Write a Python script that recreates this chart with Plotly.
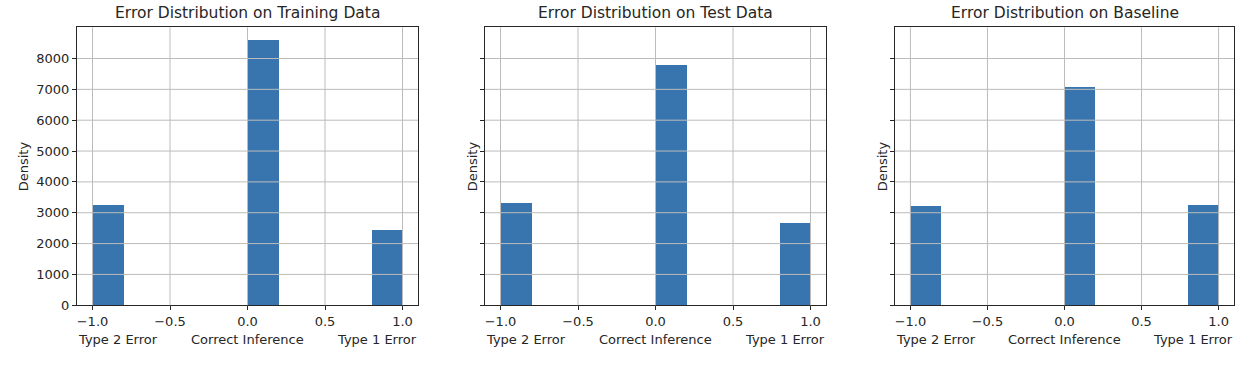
import numpy as np
import plotly.graph_objects as go

# ---- data -------------------------------------------------------------
panel_titles = ["Error Distribution on Training Data",
                "Error Distribution on Test Data",
                "Error Distribution on Baseline"]
# counts of the 10 histogram bins spanning [-1, 1]
train_counts = [3230, 0, 0, 0, 0, 8580, 0, 0, 0, 2440]
test_counts = [3290, 0, 0, 0, 0, 7780, 0, 0, 0, 2650]
baseline_counts = [3200, 0, 0, 0, 0, 7070, 0, 0, 0, 3230]
bin_edges = np.linspace(-1.0, 1.0, 11)
x_tick_vals = [-1.0, -0.5, 0.0, 0.5, 1.0]
x_tick_text = ["\u22121.0", "\u22120.5", "0.0", "0.5", "1.0"]
y_tick_vals = [0, 1000, 2000, 3000, 4000, 5000, 6000, 7000, 8000]
y_tick_text = ["0", "1000", "2000", "3000", "4000", "5000", "6000", "7000", "8000"]
class_labels = ["Type 2 Error", "Correct Inference", "Type 1 Error"]
y_label = "Density"

# ---- figure -----------------------------------------------------------
W, H = 1256, 370
FONT = "DejaVu Sans"
BAR = "#3875AE"
GRID = "#bcbcbc"
DARK = "#262626"
TICK_SIZE = 13
TITLE_SIZE = 15.5

all_counts = [train_counts, test_counts, baseline_counts]
centers = (bin_edges[:-1] + bin_edges[1:]) / 2
width = bin_edges[1] - bin_edges[0]
xr = [-1.1, 1.1]
ymax = max(max(c) for c in all_counts) * 1.05

px_domains = [(77, 418), (485, 826), (895, 1234)]
y_dom = [(H - 312) / H, (H - 28) / H]

fig = go.Figure()
shapes = []
annotations = []
for i, (counts, title) in enumerate(zip(all_counts, panel_titles)):
    n = "" if i == 0 else str(i + 1)
    xa, ya = "x" + n, "y" + n
    fig.add_trace(go.Bar(x=centers, y=counts, width=width,
                         marker=dict(color=BAR, line=dict(width=0)),
                         xaxis=xa, yaxis=ya, showlegend=False))
    d0, d1 = px_domains[i]
    common = dict(showgrid=False, zeroline=False, showline=True, mirror=True,
                  linecolor=DARK, linewidth=1, ticks="outside", ticklen=4,
                  tickwidth=1, tickcolor=DARK,
                  tickfont=dict(family=FONT, size=TICK_SIZE, color=DARK))
    fig.layout["xaxis" + n] = dict(domain=[d0 / W, d1 / W], range=xr,
                                  anchor=ya, tickvals=x_tick_vals,
                                  ticktext=x_tick_text, **common)
    fig.layout["yaxis" + n] = dict(domain=y_dom, range=[0, ymax], anchor=xa,
                                  tickvals=y_tick_vals, ticktext=y_tick_text,
                                  showticklabels=(i == 0), **common)
    # gridlines drawn above the bars, as in matplotlib
    for v in x_tick_vals:
        shapes.append(dict(type="line", xref=xa, yref=ya + " domain",
                           x0=v, x1=v, y0=0, y1=1, layer="above",
                           line=dict(color=GRID, width=1)))
    for v in y_tick_vals[1:]:
        shapes.append(dict(type="line", xref=xa + " domain", yref=ya,
                           x0=0, x1=1, y0=v, y1=v, layer="above",
                           line=dict(color=GRID, width=1)))
    # title
    annotations.append(dict(text=title, xref=xa + " domain", yref=ya + " domain",
                            x=0.5, y=1, xanchor="center", yanchor="bottom",
                            yshift=3, showarrow=False,
                            font=dict(family=FONT, size=TITLE_SIZE, color=DARK)))
    # y label
    annotations.append(dict(text=y_label, xref=xa + " domain", yref=ya + " domain",
                            x=0, y=0.5, xanchor="center", yanchor="middle",
                            xshift=-54 if i == 0 else -13, textangle=-90,
                            showarrow=False,
                            font=dict(family=FONT, size=TICK_SIZE, color=DARK)))
    # class labels under the axis
    for lab, xx, anc, sh in zip(class_labels, [0, 0.5, 1], ["left", "center", "right"], [-1, 0, 1]):
        annotations.append(dict(text=lab, xref=xa + " domain", yref=ya + " domain",
                                x=xx, y=0, xanchor=anc, yanchor="top",
                                xshift=sh, yshift=-25, showarrow=False,
                                font=dict(family=FONT, size=TICK_SIZE, color=DARK)))

fig.update_layout(width=W, height=H, margin=dict(l=0, r=0, t=0, b=0),
                  paper_bgcolor="white", plot_bgcolor="white",
                  shapes=shapes, annotations=annotations, bargap=0)
fig.write_html("out.html")
